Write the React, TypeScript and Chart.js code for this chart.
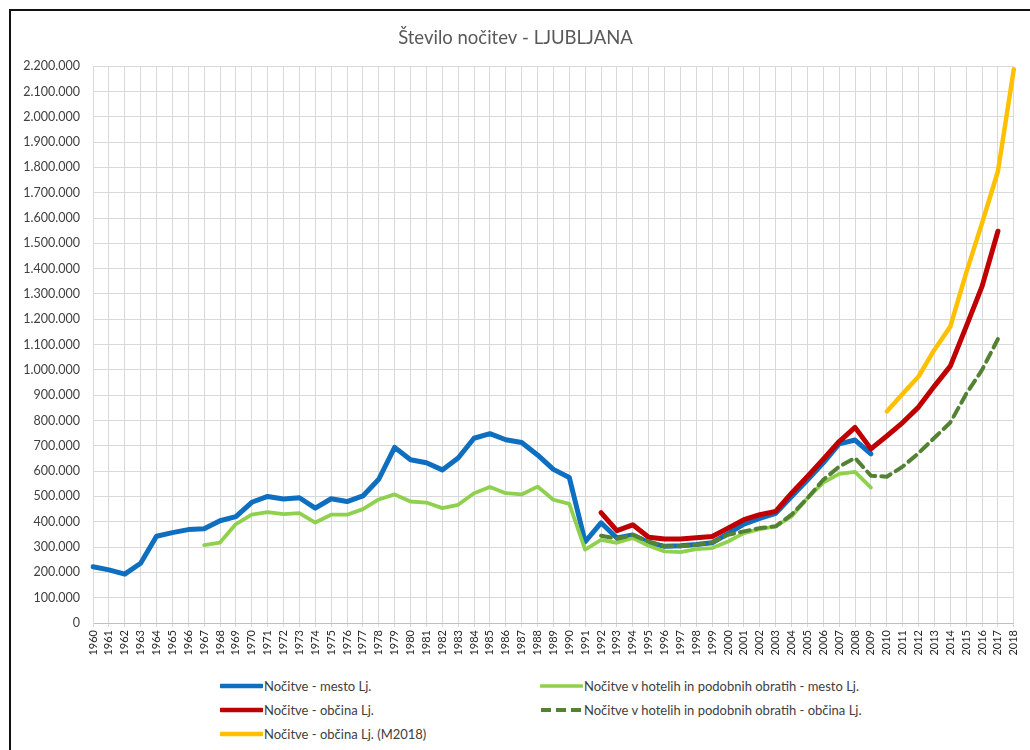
import React, { useEffect, useRef } from "react";
import { Chart, registerables } from "chart.js";

Chart.register(...registerables);

const years: string[] = [
  "1960","1961","1962","1963","1964","1965","1966","1967","1968","1969",
  "1970","1971","1972","1973","1974","1975","1976","1977","1978","1979",
  "1980","1981","1982","1983","1984","1985","1986","1987","1988","1989",
  "1990","1991","1992","1993","1994","1995","1996","1997","1998","1999",
  "2000","2001","2002","2003","2004","2005","2006","2007","2008","2009",
  "2010","2011","2012","2013","2014","2015","2016","2017","2018",
];

const N = null;

// Nočitve - mesto Lj. (1960–2009)
const mestoLj: (number | null)[] = [
  222000, 210000, 193000, 236000, 343000, 357000, 369000, 372000, 404000, 420000,
  477000, 500000, 490000, 495000, 454000, 491000, 480000, 502000, 568000, 694000,
  645000, 633000, 605000, 652000, 730000, 748000, 724000, 713000, 664000, 607000,
  575000, 321000, 396000, 336000, 348000, 318000, 303000, 305000, 310000, 317000,
  353000, 391000, 413000, 433000, 500000, 565000, 633000, 708000, 723000, 668000,
  N, N, N, N, N, N, N, N, N,
];

// Nočitve v hotelih in podobnih obratih - mesto Lj. (1967–2009)
const hoteliMesto: (number | null)[] = [
  N, N, N, N, N, N, N, 308000, 318000, 391000,
  428000, 438000, 430000, 434000, 397000, 428000, 428000, 450000, 488000, 508000,
  480000, 476000, 454000, 467000, 513000, 537000, 513000, 508000, 539000, 487000,
  471000, 290000, 328000, 317000, 336000, 305000, 283000, 280000, 292000, 296000,
  322000, 355000, 371000, 382000, 421000, 493000, 555000, 589000, 597000, 535000,
  N, N, N, N, N, N, N, N, N,
];

// Nočitve - občina Lj. (1992–2017)
const obcinaLj: (number | null)[] = [
  N, N, N, N, N, N, N, N, N, N,
  N, N, N, N, N, N, N, N, N, N,
  N, N, N, N, N, N, N, N, N, N,
  N, N, 436000, 365000, 388000, 339000, 332000, 332000, 337000, 342000,
  375000, 408000, 428000, 441000, 513000, 579000, 647000, 717000, 773000, 688000,
  739000, 792000, 853000, 936000, 1015000, 1171000, 1330000, 1548000, N,
];

// Nočitve v hotelih in podobnih obratih - občina Lj. (1992–2017)
const hoteliObcina: (number | null)[] = [
  N, N, N, N, N, N, N, N, N, N,
  N, N, N, N, N, N, N, N, N, N,
  N, N, N, N, N, N, N, N, N, N,
  N, N, 345000, 333000, 348000, 322000, 303000, 303000, 309000, 318000,
  349000, 362000, 375000, 382000, 428000, 493000, 566000, 618000, 652000, 582000,
  578000, 618000, 671000, 732000, 792000, 905000, 1000000, 1122000, N,
];

// Nočitve - občina Lj. (M2018) (2010–2018)
const obcinaM2018: (number | null)[] = [
  N, N, N, N, N, N, N, N, N, N,
  N, N, N, N, N, N, N, N, N, N,
  N, N, N, N, N, N, N, N, N, N,
  N, N, N, N, N, N, N, N, N, N,
  N, N, N, N, N, N, N, N, N, N,
  836000, 906000, 974000, 1080000, 1171000, 1383000, 1580000, 1785000, 2188000,
];

const titleText = "Število nočitev - LJUBLJANA";

const seriesNames = [
  "Nočitve - mesto Lj.",
  "Nočitve v hotelih in podobnih obratih - mesto Lj.",
  "Nočitve - občina Lj.",
  "Nočitve v hotelih in podobnih obratih - občina Lj.",
  "Nočitve - občina Lj. (M2018)",
];

const BLUE = "#0E6EC0";
const LGREEN = "#8FD14F";
const RED = "#C00000";
const DGREEN = "#548235";
const YELLOW = "#FFC000";

const FONT = "Lato, 'Open Sans', sans-serif";

function fmt(v: number): string {
  return String(Math.round(v)).replace(/\B(?=(\d{3})+(?!\d))/g, ".");
}

type LegendItem = { name: string; color: string; width: number; dash?: string; x: number; y: number };

const legendItems: LegendItem[] = [
  { name: seriesNames[0], color: BLUE, width: 4.5, x: 220, y: 686 },
  { name: seriesNames[1], color: LGREEN, width: 3.5, x: 540, y: 686 },
  { name: seriesNames[2], color: RED, width: 4.5, x: 220, y: 710 },
  { name: seriesNames[3], color: DGREEN, width: 4, dash: "10 5", x: 540, y: 710 },
  { name: seriesNames[4], color: YELLOW, width: 4.5, x: 220, y: 734 },
];

export default function App() {
  const ref = useRef<HTMLCanvasElement | null>(null);

  useEffect(() => {
    const canvas = ref.current;
    if (!canvas) return;
    const chart = new Chart(canvas, {
      type: "line",
      data: {
        labels: years,
        datasets: [
          { label: seriesNames[0], data: mestoLj, borderColor: BLUE, backgroundColor: BLUE, borderWidth: 5, order: 5 },
          { label: seriesNames[1], data: hoteliMesto, borderColor: LGREEN, backgroundColor: LGREEN, borderWidth: 3.8, order: 4 },
          { label: seriesNames[2], data: obcinaLj, borderColor: RED, backgroundColor: RED, borderWidth: 5, order: 3 },
          { label: seriesNames[3], data: hoteliObcina, borderColor: DGREEN, backgroundColor: DGREEN, borderWidth: 4, borderDash: [10, 6], order: 2 },
          { label: seriesNames[4], data: obcinaM2018, borderColor: YELLOW, backgroundColor: YELLOW, borderWidth: 4.5, order: 1 },
        ],
      },
      options: {
        animation: false,
        responsive: false,
        devicePixelRatio: 1,
        spanGaps: false,
        elements: {
          point: { radius: 0, hoverRadius: 0 },
          line: { tension: 0, borderCapStyle: "round", borderJoinStyle: "round" },
        },
        layout: { padding: { left: 0, right: 10, top: 0, bottom: 0 } },
        plugins: {
          legend: { display: false },
          tooltip: { enabled: false },
          title: {
            display: true,
            text: titleText,
            color: "#595959",
            font: { family: FONT, size: 18.5, weight: "normal" },
            padding: { top: 16, bottom: 17 },
          },
        },
        scales: {
          x: {
            offset: false,
            grid: { color: "#d9d9d9", lineWidth: 1, tickLength: 4, drawTicks: true },
            border: { color: "#bfbfbf" },
            ticks: {
              autoSkip: false,
              minRotation: 90,
              maxRotation: 90,
              padding: 3,
              color: "#262626",
              font: { family: FONT, size: 11 },
            },
            afterFit: (scale: any) => {
              scale.height = 48;
            },
          },
          y: {
            min: 0,
            max: 2200000,
            grid: { color: "#d9d9d9", lineWidth: 1, drawTicks: false },
            border: { color: "#d9d9d9" },
            ticks: {
              stepSize: 100000,
              padding: 13,
              color: "#404040",
              font: { family: FONT, size: 12.5 },
              callback: (v: any) => fmt(Number(v)),
            },
            afterFit: (scale: any) => {
              scale.width = 82;
            },
          },
        },
      },
    });
    return () => chart.destroy();
  }, []);

  return (
    <div style={{ position: "fixed", left: 0, top: 0, width: 1030, height: 750, background: "#fff", overflow: "hidden" }}>
      <div
        style={{
          position: "absolute",
          left: 9,
          top: 9,
          width: 1021,
          height: 741,
          borderLeft: "2px solid #111",
          borderTop: "2px solid #111",
          boxSizing: "border-box",
        }}
      />
      <canvas ref={ref} width={1019} height={660} style={{ position: "absolute", left: 11, top: 11, width: 1019, height: 660 }} />
      {legendItems.map((it, i) => (
        <div
          key={i}
          style={{
            position: "absolute",
            left: it.x,
            top: it.y - 10,
            height: 20,
            display: "flex",
            alignItems: "center",
            whiteSpace: "nowrap",
            fontFamily: FONT,
            fontSize: 13,
            color: "#404040",
          }}
        >
          <svg width={43} height={10} style={{ display: "block" }}>
            <line
              x1={1}
              y1={5}
              x2={42}
              y2={5}
              stroke={it.color}
              strokeWidth={it.width}
              strokeLinecap={it.dash ? "butt" : "round"}
              strokeDasharray={it.dash}
            />
          </svg>
          <span style={{ marginLeft: 1 }}>{it.name}</span>
        </div>
      ))}
    </div>
  );
}
